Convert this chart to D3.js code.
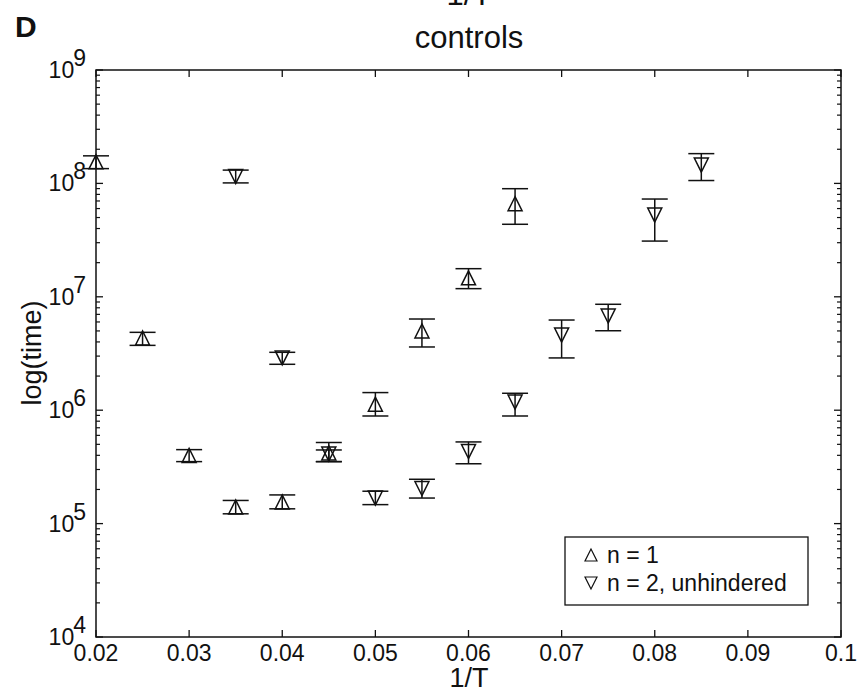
<!DOCTYPE html>
<html><head><meta charset="utf-8">
<script src="https://cdn.jsdelivr.net/npm/d3@7"></script>
<style>
body{margin:0;background:#fff;}
svg{display:block;font-family:"Liberation Sans",Arial,Helvetica,sans-serif;}
</style></head>
<body>
<svg id="chart" width="858" height="693"></svg>
<script>
// ---- data ----
const xN1 = [0.02,0.025,0.03,0.035,0.04,0.045,0.05,0.055,0.06,0.065];
const n1  = [1.55e8,4.33e6,3.99e5,1.40e5,1.55e5,4.2e5,1.13e6,4.99e6,1.47e7,6.62e7];
const n1Lo= [1.35e8,3.73e6,3.52e5,1.22e5,1.35e5,3.52e5,8.89e5,3.61e6,1.18e7,4.36e7];
const n1Hi= [1.75e8,4.86e6,4.49e5,1.60e5,1.79e5,5.19e5,1.43e6,6.37e6,1.77e7,8.98e7];

const xN2 = [0.035,0.04,0.045,0.05,0.055,0.06,0.065,0.07,0.075,0.08,0.085];
const n2  = [1.15e8,2.89e6,4.1e5,1.68e5,2.04e5,4.32e5,1.18e6,4.6e6,6.77e6,5.26e7,1.45e8];
const n2Lo= [1.01e8,2.54e6,3.52e5,1.47e5,1.68e5,3.37e5,8.89e5,2.89e6,5.02e6,3.10e7,1.06e8];
const n2Hi= [1.31e8,3.24e6,4.46e5,1.93e5,2.46e5,5.25e5,1.41e6,6.24e6,8.59e6,7.28e7,1.83e8];

const xTicks = [0.02,0.03,0.04,0.05,0.06,0.07,0.08,0.09,0.1];
const xTickLabels = ["0.02","0.03","0.04","0.05","0.06","0.07","0.08","0.09","0.1"];
const yExps = [4,5,6,7,8,9];
const legendLabels = ["n = 1","n = 2, unhindered"];
const titleText = "controls";
const topText = "1/T";
const panelLabel = "D";
const xLabel = "1/T";
const yLabel = "log(time)";

// ---- layout ----
const L=96, R=841, T=70, B=637;
const svg = d3.select("#chart");
const x = d3.scaleLinear().domain([0.02,0.1]).range([L,R]);
const y = d3.scaleLog().domain([1e4,1e9]).range([B,T]);
const ink = "#111";

// frame
svg.append("rect").attr("x",L).attr("y",T).attr("width",R-L).attr("height",B-T)
  .attr("fill","none").attr("stroke",ink).attr("stroke-width",1.5);

// x ticks (inward, top and bottom)
const gx = svg.append("g");
xTicks.forEach((t,i)=>{
  const px = x(t);
  gx.append("line").attr("x1",px).attr("x2",px).attr("y1",B).attr("y2",B-7).attr("stroke",ink).attr("stroke-width",1.3);
  gx.append("line").attr("x1",px).attr("x2",px).attr("y1",T).attr("y2",T+7).attr("stroke",ink).attr("stroke-width",1.3);
  gx.append("text").attr("x",px).attr("y",661).attr("text-anchor","middle")
    .attr("font-size",23).attr("fill",ink).text(xTickLabels[i]);
});

// y ticks (major + minor, left and right)
const gy = svg.append("g");
yExps.forEach(e=>{
  const py = y(Math.pow(10,e));
  [[L,L+7],[R,R-7]].forEach(([a,b])=>gy.append("line").attr("x1",a).attr("x2",b).attr("y1",py).attr("y2",py).attr("stroke",ink).attr("stroke-width",1.3));
  const tx = gy.append("text").attr("x",86).attr("y",py+8).attr("text-anchor","end").attr("font-size",23).attr("fill",ink);
  tx.append("tspan").text("10");
  tx.append("tspan").attr("dy",-12).attr("dx",-1).text(String(e));
  if(e<9){
    for(let m=2;m<=9;m++){
      const pm = y(m*Math.pow(10,e));
      [[L,L+4],[R,R-4]].forEach(([a,b])=>gy.append("line").attr("x1",a).attr("x2",b).attr("y1",pm).attr("y2",pm).attr("stroke",ink).attr("stroke-width",1.2));
    }
  }
});

// error bars + markers
function series(xs, vs, lo, hi, up){
  const g = svg.append("g").attr("stroke",ink).attr("stroke-width",1.5).attr("fill","none");
  xs.forEach((xv,i)=>{
    const px = x(xv), pl = y(lo[i]), ph = y(hi[i]), pv = y(vs[i]);
    g.append("line").attr("x1",px).attr("x2",px).attr("y1",pl).attr("y2",ph);
    g.append("line").attr("x1",px-13).attr("x2",px+13).attr("y1",pl).attr("y2",pl);
    g.append("line").attr("x1",px-13).attr("x2",px+13).attr("y1",ph).attr("y2",ph);
    const s = 7;
    const pts = up ? [[px,pv-s],[px-s,pv+s],[px+s,pv+s]] : [[px,pv+s],[px-s,pv-s],[px+s,pv-s]];
    g.append("path").attr("d", d3.line()(pts)+"Z");
  });
}
series(xN1,n1,n1Lo,n1Hi,true);
series(xN2,n2,n2Lo,n2Hi,false);

// legend
const lg = svg.append("g");
lg.append("rect").attr("x",565).attr("y",537).attr("width",243).attr("height",68)
  .attr("fill","#fff").attr("stroke",ink).attr("stroke-width",1.3);
legendLabels.forEach((lab,i)=>{
  const cy = 555 + i*28, cx = 591;
  const s=6;
  const pts = i===0 ? [[cx,cy-s],[cx-s,cy+s],[cx+s,cy+s]] : [[cx,cy+s],[cx-s,cy-s],[cx+s,cy-s]];
  lg.append("path").attr("d",d3.line()(pts)+"Z").attr("fill","none").attr("stroke",ink).attr("stroke-width",1.2);
  lg.append("text").attr("x",607).attr("y",cy+8).attr("font-size",23).attr("fill",ink).text(lab);
});

// titles and labels
svg.append("text").attr("x",469).attr("y",5).attr("text-anchor","middle").attr("font-size",31).attr("fill",ink).text(topText);
svg.append("text").attr("x",469).attr("y",48).attr("text-anchor","middle").attr("font-size",31).attr("fill",ink).text(titleText);
svg.append("text").attr("x",15).attr("y",37).attr("font-size",30).attr("font-weight","bold").attr("fill",ink).text(panelLabel);
svg.append("text").attr("x",469).attr("y",687).attr("text-anchor","middle").attr("font-size",27).attr("fill",ink).text(xLabel);
svg.append("text").attr("transform","translate(41,353) rotate(-90)").attr("text-anchor","middle").attr("font-size",27).attr("fill",ink).text(yLabel);
</script>
</body></html>
